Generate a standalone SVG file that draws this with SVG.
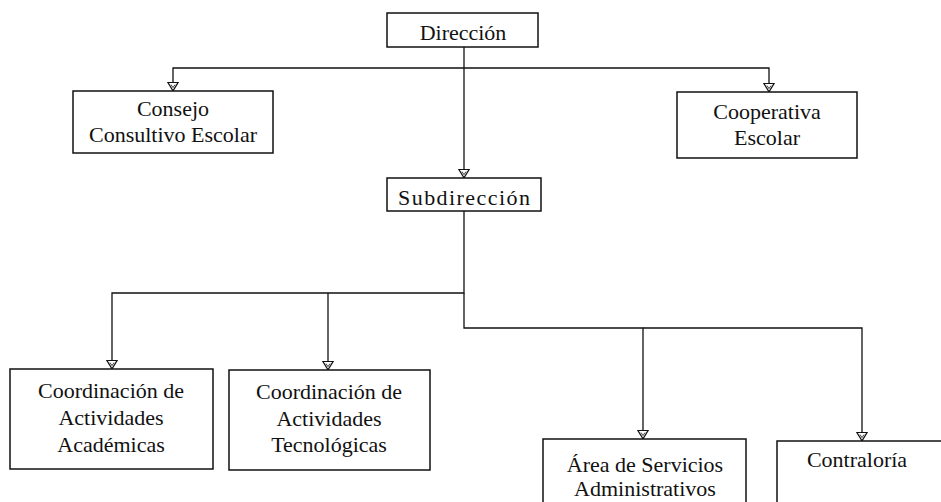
<svg xmlns="http://www.w3.org/2000/svg" width="941" height="502" viewBox="0 0 941 502">
<style>
  .box { fill: #fff; stroke: #111; stroke-width: 1.5; }
  .lbl { font-family: "Liberation Serif", "Times New Roman", serif; font-size: 22px; fill: #111; text-anchor: middle; }
  .conn { fill: none; stroke: #111; stroke-width: 1.3; }
</style>
<defs>
  <marker id="arr" viewBox="0 0 10 12" refX="9.4" refY="6" markerWidth="10" markerHeight="12" markerUnits="userSpaceOnUse" orient="auto">
    <path d="M0.8,0.8 L9.2,6 L0.8,11.2 Z" fill="#fff" stroke="#111" stroke-width="1.2"/>
    <path d="M3,4 L6,6 L3,8" fill="none" stroke="#111" stroke-width="0.8"/>
  </marker>
</defs>
<rect width="941" height="502" fill="#fff"/>
<g id="connectors">
  <path class="conn" d="M464,47 V178" marker-end="url(#arr)"/>
  <path class="conn" d="M464,68 H173 V91" marker-end="url(#arr)"/>
  <path class="conn" d="M464,68 H769 V92" marker-end="url(#arr)"/>
  <path class="conn" d="M464,211 V293 H112 V369" marker-end="url(#arr)"/>
  <path class="conn" d="M328,293 V370" marker-end="url(#arr)"/>
  <path class="conn" d="M464,293 V328 H643 V439" marker-end="url(#arr)"/>
  <path class="conn" d="M643,328 H862 V441" marker-end="url(#arr)"/>
</g>
<g id="direccion">
  <rect class="box" x="387" y="13" width="151" height="34"/>
  <text class="lbl" x="463" y="40">Dirección</text>
</g>
<g id="consejo">
  <rect class="box" x="73" y="91" width="200" height="62"/>
  <text class="lbl" x="173" y="116">Consejo</text>
  <text class="lbl" x="173" y="142">Consultivo Escolar</text>
</g>
<g id="cooperativa">
  <rect class="box" x="677" y="92" width="180" height="66"/>
  <text class="lbl" x="767" y="119">Cooperativa</text>
  <text class="lbl" x="767" y="145">Escolar</text>
</g>
<g id="subdireccion">
  <rect class="box" x="387" y="178" width="154" height="33"/>
  <text class="lbl" x="464" y="205" textLength="132" lengthAdjust="spacing">Subdirección</text>
</g>
<g id="coord-academicas">
  <rect class="box" x="10" y="369" width="203" height="100"/>
  <text class="lbl" x="111" y="398">Coordinación de</text>
  <text class="lbl" x="111" y="425">Actividades</text>
  <text class="lbl" x="111" y="452">Académicas</text>
</g>
<g id="coord-tecnologicas">
  <rect class="box" x="229" y="370" width="201" height="100"/>
  <text class="lbl" x="329" y="399">Coordinación de</text>
  <text class="lbl" x="329" y="426">Actividades</text>
  <text class="lbl" x="329" y="452">Tecnológicas</text>
</g>
<g id="servicios-administrativos">
  <rect class="box" x="543" y="439" width="203" height="80"/>
  <text class="lbl" x="645" y="472">Área de Servicios</text>
  <text class="lbl" x="645" y="496">Administrativos</text>
</g>
<g id="contraloria">
  <rect class="box" x="777" y="441" width="180" height="80"/>
  <text class="lbl" x="857" y="467">Contraloría</text>
</g>
</svg>
